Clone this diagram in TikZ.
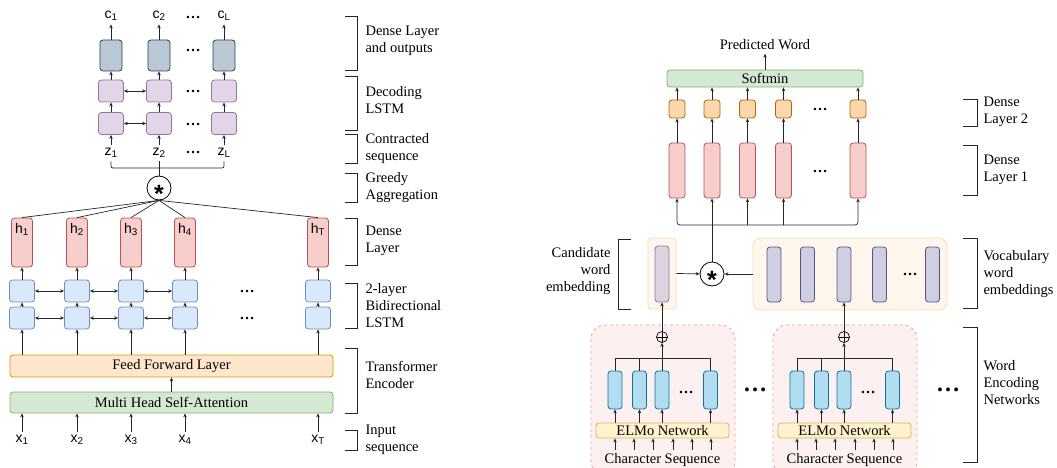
\documentclass[tikz,border=0pt]{standalone}
\usepackage{fontspec}
\setmainfont{Liberation Serif}
\setsansfont{Liberation Sans}
\usetikzlibrary{arrows.meta, positioning, calc}
\definecolor{denseFill}{HTML}{BAC8D3}
\definecolor{denseDraw}{HTML}{23445D}
\definecolor{decFill}{HTML}{E1D5E7}
\definecolor{decDraw}{HTML}{9673A6}
\definecolor{hidFill}{HTML}{F8CECC}
\definecolor{hidDraw}{HTML}{B85450}
\definecolor{lstmFill}{HTML}{DAE8FC}
\definecolor{lstmDraw}{HTML}{6C8EBF}
\definecolor{ffFill}{HTML}{FFE6CC}
\definecolor{ffDraw}{HTML}{D79B00}
\definecolor{attnFill}{HTML}{D5E8D4}
\definecolor{attnDraw}{HTML}{82B366}
\definecolor{orFill}{HTML}{FAD7AC}
\definecolor{orDraw}{HTML}{B46504}
\definecolor{barFill}{HTML}{B1DDF0}
\definecolor{barDraw}{HTML}{10739E}
\definecolor{elmoFill}{HTML}{FFF2CC}
\definecolor{elmoDraw}{HTML}{D6B656}
\definecolor{vocFill}{HTML}{D0CEE2}
\definecolor{vocDraw}{HTML}{56517E}
\definecolor{candFill}{HTML}{DDD2DD}
\definecolor{candDraw}{HTML}{8C7AA0}
\definecolor{embFill}{HTML}{FFF7EE}
\definecolor{embDraw}{HTML}{F7DDAA}
\definecolor{grpFill}{HTML}{FDF0F0}
\definecolor{grpDraw}{HTML}{E8A3A3}

\begin{document}
\begin{tikzpicture}[
    x=1pt, y=-1pt,
    font=\fontsize{14.5}{17}\selectfont,
    box/.style={
        rectangle,
        draw=#1Draw,
        fill=#1Fill,
        rounded corners=3pt,
        line width=0.8pt,
        inner sep=0pt
    },
    cell/.style={box=#1, minimum width=25pt, minimum height=22pt},
    densebox/.style={box=dense, minimum width=22pt, minimum height=31pt},
    hbox/.style={box=hid, minimum width=21pt, minimum height=49pt},
    group/.style={box=grp, dashed, rounded corners=14pt, minimum width=144pt, minimum height=150pt},
    sym/.style={font=\fontsize{14}{16}\selectfont\sffamily},
    dots/.style={font=\fontsize{15}{15}\selectfont\bfseries, inner sep=1pt},
    bigdots/.style={font=\fontsize{24}{24}\selectfont\bfseries, inner sep=1pt},
    opcirc/.style={circle, draw, line width=0.8pt, minimum size=24pt, inner sep=0pt, font=\fontsize{25}{25}\selectfont\sffamily\bfseries},
    oplus/.style={circle, draw, line width=0.7pt, minimum size=11pt, inner sep=0pt,
        path picture={\draw[line width=0.7pt] (path picture bounding box.north) -- (path picture bounding box.south)
            (path picture bounding box.west) -- (path picture bounding box.east);}},
    note/.style={align=left, anchor=west},
    arrow/.style={-{Stealth[length=4pt,width=3.5pt]}, line width=0.7pt, black!85},
    biarrow/.style={{Stealth[length=4pt,width=3.5pt]}-{Stealth[length=4pt,width=3.5pt]}, line width=0.7pt, black!85},
    wire/.style={line width=0.7pt, black!85},
    brace/.style={line width=0.8pt, black!85}
]
    \useasboundingbox (0,0) rectangle (1057,468);
    \clip (0,0) rectangle (1057,468);

    % ---------- left: transformer + greedy aggregation ----------
    % Decoder columns
    \foreach \n/\x/\s in {1/111/1, 2/159/2, 3/224/L} {
        \node[densebox] (dn\n) at (\x,55.5) {};
        \node[sym] (c\n) at (\x,16) {c\textsubscript{\s}};
        \node[cell=dec] (dt\n) at (\x,91) {};
        \node[cell=dec] (db\n) at (\x,123.5) {};
        \node[sym] (z\n) at (\x,153) {z\textsubscript{\s}};
        \draw[arrow] (z\n) -- (db\n);
        \draw[arrow] (db\n) -- (dt\n);
        \draw[arrow] (dt\n) -- (dn\n);
        \draw[arrow] (dn\n) -- (c\n);
    }
    \draw[biarrow] (dt1) -- (dt2);
    \draw[biarrow] (db1) -- (db2);
    \node[dots] (cdots) at (193,17) {\dots};
    \node[dots] (ndots) at (193,50) {\dots};
    \node[dots] (tdots) at (193,91) {\dots};
    \node[dots] (bdots) at (193,124) {\dots};
    \node[dots] (zdots) at (193,152) {\dots};

    % Greedy aggregation
    \node[opcirc] (agg) at (159,188) {\raisebox{-14.5pt}[0pt][0pt]{*}};
    \coordinate (zb) at (0,168);
    \draw[wire, rounded corners=2pt] (z1.south) -- (z1 |- zb) -- (z3 |- zb) -- (z3.south);
    \draw[wire] (z2.south) -- (agg);

    % Transformer encoder
    \node[box=ff, minimum width=323pt, minimum height=22pt] (ff) at (171.5,366) {Feed Forward Layer};
    \node[box=attn, minimum width=323pt, minimum height=21pt] (mhsa) at (171.5,402.5) {Multi Head Self-Attention};
    \draw[arrow] (mhsa) -- (ff);

    % Dense layer, BiLSTM, inputs
    \foreach \n/\x/\s in {1/22/1, 2/77/2, 3/131/3, 4/185/4, 5/318/T} {
        \node[hbox] (h\n) at (\x,242.5) {};
        \node[sym, below=2pt of h\n.north] (hl\n) {h\textsubscript{\s}};
        \node[cell=lstm] (lt\n) at (\x,291) {};
        \node[cell=lstm] (lb\n) at (\x,318) {};
        \node[sym] (x\n) at (\x,440) {x\textsubscript{\s}};
        \draw[wire] (agg.south) -- (h\n.north);
        \draw[arrow] (lt\n) -- (h\n);
        \draw[arrow] (lb\n) -- (lt\n);
        \draw[arrow] (ff.north -| lb\n) -- (lb\n);
        \draw[arrow] (x\n) -- (x\n |- mhsa.south);
    }
    \foreach \a/\b in {1/2, 2/3, 3/4} {
        \draw[biarrow] (lt\a) -- (lt\b);
        \draw[biarrow] (lb\a) -- (lb\b);
    }
    \node[dots] (ltdots) at (247,291) {\dots};
    \node[dots] (lbdots) at (247,318) {\dots};

    % Brackets
    \foreach \t/\b/\y/\txt [count=\k] in {16/70/41/{Dense Layer\\and outputs}, 76/130/100/{Decoding\\LSTM},
        134/163/149/{Contracted\\sequence}, 173/202/188/{Greedy\\Aggregation}, 218/265/241/{Dense\\Layer},
        283/328/306/{2-layer\\Bidirectional\\LSTM}, 348/413/375/{Transformer\\Encoder}, 430/450/440/{Input\\sequence}} {
        \draw[brace] (345,\t) -- (357,\t) -- (357,\b) -- (345,\b);
        \node[note] (lnote\k) at (362,\y) {\txt};
    }

    % ---------- right: word prediction ----------
    \node (pred) at (765,45) {Predicted Word};
    \node[box=attn, minimum width=196pt, minimum height=17pt] (soft) at (765,78.5) {Softmin};
    \draw[arrow] (soft) -- (pred);

    \coordinate (bus) at (0,225);
    \foreach \n/\x in {1/677, 2/712, 3/747.5, 4/783.5, 5/858} {
        \node[box=or, minimum width=16pt, minimum height=18pt] (o\n) at (\x,109) {};
        \node[box=hid, minimum width=16pt, minimum height=55pt] (r\n) at (\x,170.5) {};
        \draw[arrow] (o\n) -- (o\n |- soft.south);
        \draw[arrow] (r\n) -- (o\n);
    }
    \node[dots] (odots) at (820,109) {\dots};
    \node[dots] (rdots) at (820,171) {\dots};
    \draw[biarrow, rounded corners=3pt] (r1) -- (r1 |- bus) -- (r5 |- bus) -- (r5);
    \foreach \n in {3,4} \draw[arrow] (r\n |- bus) -- (r\n);

    % Embeddings and product
    \node[opcirc] (mul) at (712,274) {\raisebox{-14.5pt}[0pt][0pt]{*}};
    \draw[arrow] (mul) -- (r2);
    \node[box=emb, minimum width=28pt, minimum height=71pt] (cand) at (662,273.5) {};
    \node[box=cand, minimum width=14pt, minimum height=56pt] (candin) at (662,274) {};
    \node[box=emb, rounded corners=8pt, minimum width=194pt, minimum height=72pt] (voc) at (850,274) {};
    \foreach \n/\x in {1/774, 2/807.5, 3/844, 4/879.5, 5/932.5}
        \node[box=voc, minimum width=14pt, minimum height=55pt] (v\n) at (\x,274.5) {};
    \node[dots] (vdots) at (910,274) {\dots};
    \draw[arrow] (cand.east) -- (mul);
    \draw[arrow] (voc.west) -- (mul);

    % Word encoding networks
    \foreach \g/\o in {A/0, B/182} {
        \node[group] (grp\g) at (663+\o,400) {};
        \node[oplus] (plus\g) at (662+\o,337) {};
        \node[box=elmo, minimum width=133pt, minimum height=15pt] (elmo\g) at (662.5+\o,430.5) {ELMo Network};
        \foreach \n/\x in {1/615, 2/639.5, 3/662, 4/710.5} {
            \node[box=bar, minimum width=14pt, minimum height=38pt] (b\g\n) at (\x+\o,390) {};
            \draw[arrow] (elmo\g.north -| b\g\n) -- (b\g\n);
        }
        \coordinate (eb\g) at (0,358);
        \draw[wire] (b\g1) -- (b\g1 |- eb\g) -- (b\g4 |- eb\g) -- (b\g4);
        \draw[wire] (b\g2) -- (b\g2 |- eb\g);
        \draw[arrow] (b\g3) -- (plus\g);
        \node[dots] (bd\g) at (686+\o,392) {\dots};
        \foreach \n/\x in {1/615, 2/634, 3/653, 4/673, 5/692, 6/711} {
            \coordinate (ch\g\n) at (\x+\o,450);
            \draw[arrow] (ch\g\n) -- (ch\g\n |- elmo\g.south);
        }
        \node (cs\g) at (662.5+\o,460) {Character Sequence};
    }
    \draw[arrow] (plusA) -- (candin);
    \draw[arrow] (plusB) -- (v3);
    \node[bigdots] (gdots1) at (755,390) {\dots};
    \node[bigdots] (gdots2) at (948,390) {\dots};

    % Brackets
    \draw[brace] (631,239) -- (618,239) -- (618,309) -- (631,309);
    \node[align=right, anchor=east] (rnote0) at (614,271) {Candidate\\word\\embedding};
    \foreach \t/\b/\y/\txt [count=\k] in {99/126/112/{Dense\\Layer 2}, 145/195/170/{Dense\\Layer 1},
        238/308/274/{Vocabulary\\word\\embeddings}, 327/462/383/{Word\\Encoding\\Networks}} {
        \draw[brace] (963,\t) -- (977,\t) -- (977,\b) -- (963,\b);
        \node[note] (rnote\k) at (980,\y) {\txt};
    }

\end{tikzpicture}
\end{document}
